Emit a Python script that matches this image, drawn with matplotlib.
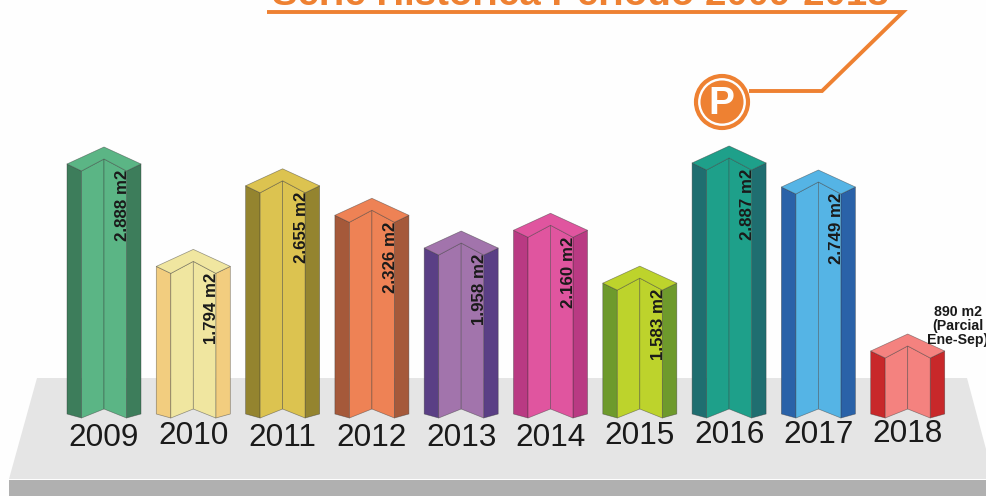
import matplotlib
matplotlib.use("Agg")
import matplotlib.pyplot as plt
from matplotlib.patches import Polygon, Circle
from matplotlib.transforms import Affine2D

plt.rcParams['font.family'] = ['Liberation Sans', 'DejaVu Sans']

years = ["2009", "2010", "2011", "2012", "2013", "2014", "2015", "2016", "2017", "2018"]
labels = ["2.888 m2", "1.794 m2", "2.655 m2", "2.326 m2", "1.958 m2",
          "2.160 m2", "1.583 m2", "2.887 m2", "2.749 m2", ""]
# the bars are hand drawn, so they do not follow the labels exactly
drawn_m2 = [2888, 1794, 2655, 2340, 1990, 2180, 1615, 2899, 2642, 890]
year_shift = [0, -2, 0, 0, 0, 0, -2, -3, -3, -4]

side_colors = ["#3d7d5b", "#f2cd7f", "#94842f", "#a5593a", "#5a3f85",
               "#b93a83", "#6e9a2c", "#1f6e70", "#2a62a8", "#c8282a"]
front_colors = ["#5bb585", "#f0e6a0", "#dcc350", "#ee8255", "#a274ac",
                "#e0559f", "#bdd32c", "#1ea08a", "#55b4e5", "#f4827f"]

title = "Serie Histórica Periodo 2009-2018"
partial_note = "890 m2\n(Parcial\nEne-Sep)"
orange = "#ee8132"

W, H = 987, 496
px_per_x = 89.3
px_per_m2 = 0.0936
dx = 1 / px_per_x
dy = 1 / px_per_m2

fig = plt.figure(figsize=(W / 100, H / 100), dpi=100, facecolor="#fefefe")
ax = fig.add_axes([0, 0, 1, 1])
ax.set_xlim(-104 / px_per_x, (W - 104) / px_per_x)
ax.set_ylim((434.3 - H) / px_per_m2, 434.3 / px_per_m2)
ax.axis("off")

# picture pixels, y going down, for the decoration
px = Affine2D().scale(1 / W, -1 / H).translate(0, 1) + ax.transAxes

# platform
ax.add_patch(Polygon([(37, 378), (967, 378), (994, 479), (9, 479)], closed=True,
                     fc="#e5e5e5", ec="none", transform=px, zorder=1))
ax.add_patch(Polygon([(9, 480), (990, 480), (990, 496), (9, 496)], closed=True,
                     fc="#b0b0b0", ec="none", transform=px, zorder=1))

# title and leader line, the top of the title is cut off in the original too
ax.text(580, 5, title, transform=px, ha="center", va="baseline", color=orange,
        fontsize=27.6, fontweight="bold", zorder=2)
ax.plot([267, 903, 822, 749], [12, 12, 91, 91], color=orange, lw=2.8,
        solid_joinstyle="miter", solid_capstyle="butt", transform=px, zorder=2)
ax.add_patch(Circle((722, 102), 26, fc="#fefefe", ec=orange, lw=3, transform=px, zorder=3))
ax.add_patch(Circle((722, 102), 21.5, fc=orange, ec="none", transform=px, zorder=4))
ax.text(721, 104, "P", transform=px, ha="center", va="center", color="#fefefe",
        fontsize=28, fontweight="bold", zorder=5)

base = 20.3 / px_per_m2  # where the outer corners of a bar stop


def poly(points, fc, z):
    ax.add_patch(Polygon(points, closed=True, fc=fc, ec="#33333380", lw=0.5,
                         joinstyle="round", zorder=z))


for i, h in enumerate(drawn_m2):
    L, R = i - 37 * dx, i + 37 * dx
    il, ir = i - 22.5 * dx, i + 22.5 * dx
    z = 6 + i * 0.01
    # sides
    poly([(L, h), (il, h - 7 * dy), (il, base - 4 * dy), (L, base)], side_colors[i], z)
    poly([(R, h), (ir, h - 7 * dy), (ir, base - 4 * dy), (R, base)], side_colors[i], z)
    # the two front faces meet on the ridge
    poly([(il, h - 7 * dy), (i, h + 5 * dy), (i, base + 5 * dy), (il, base - 4 * dy)], front_colors[i], z)
    poly([(ir, h - 7 * dy), (i, h + 5 * dy), (i, base + 5 * dy), (ir, base - 4 * dy)], front_colors[i], z)
    # top
    poly([(L, h), (i, h + 17 * dy), (R, h), (ir, h - 7 * dy), (i, h + 5 * dy), (il, h - 7 * dy)],
         front_colors[i], z)

    ax.text(i + 18.5 * dx, h - 6 * dy, labels[i], rotation=90, ha="center", va="top",
            fontsize=12.2, fontweight="bold", color="#1a1a1a", zorder=8)
    ax.text(i, base - (24 + year_shift[i]) * dy, years[i], ha="center", va="center",
            fontsize=22.7, color="#1a1a1a", zorder=8)

ax.text(958, 326, partial_note, transform=px, ha="center", va="center", color="#1a1a1a",
        fontsize=10.2, fontweight="bold", linespacing=0.98, zorder=9)

fig.savefig("out.png", dpi=100, facecolor=fig.get_facecolor())
